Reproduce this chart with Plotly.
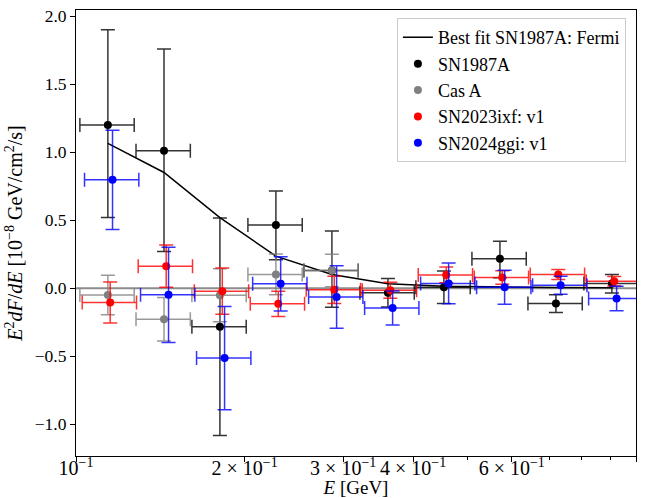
import plotly.graph_objects as go
import numpy as np

# ---------------- data ----------------
# Energy bin centres [GeV]
E_sn1987a = [0.1140, 0.1436, 0.1807, 0.2275, 0.2864, 0.3606, 0.4539, 0.5715, 0.7195, 0.9057]
E_casa = [0.1140, 0.1436, 0.1807, 0.2275, 0.2864]
E_sn2023ixf = [0.1151, 0.1449, 0.1825, 0.2297, 0.2892, 0.3641, 0.4583, 0.5770, 0.7264, 0.9144]
E_sn2024ggi = [0.1162, 0.1463, 0.1842, 0.2320, 0.2920, 0.3676, 0.4628, 0.5826, 0.7335, 0.9234]

# E^2 dF/dE [1e-8 GeV/cm^2/s]
y_sn1987a = [1.20, 1.01, -0.283, 0.465, 0.13, -0.034, 0.007, 0.216, -0.113, 0.035]
yerr_up_sn1987a = [0.70, 0.75, 0.80, 0.25, 0.29, 0.105, 0.12, 0.13, 0.065, 0.066]
yerr_dn_sn1987a = [0.68, 0.74, 0.80, 0.255, 0.27, 0.104, 0.12, 0.14, 0.065, 0.07]

y_casa = [-0.05, -0.229, -0.052, 0.101, 0.13]
yerr_casa = [0.145, 0.16, 0.195, 0.15, 0.12]

y_sn2023ixf = [-0.105, 0.162, -0.022, -0.115, -0.012, -0.015, 0.098, 0.079, 0.101, 0.052]
yerr_sn2023ixf = [0.15, 0.155, 0.17, 0.093, 0.10, 0.058, 0.058, 0.05, 0.037, 0.035]

y_sn2024ggi = [0.797, -0.049, -0.514, 0.032, -0.064, -0.145, 0.035, 0.007, 0.022, -0.076]
yerr_sn2024ggi = [0.365, 0.35, 0.38, 0.20, 0.23, 0.125, 0.15, 0.125, 0.066, 0.09]

# best-fit curve (SN1987A: Fermi) evaluated at the SN1987A energies
fit_sn1987a = [1.065, 0.851, 0.519, 0.236, 0.101, 0.033, 0.014, 0.008, 0.005, 0.004]

# half bin width in decades (horizontal error bars)
BIN_LO_DEX = 0.050
BIN_HI_DEX = 0.047

x_tickvals = [0.1, 0.2, 0.3, 0.4, 0.6, 1.0]
x_ticktext = ["10<sup>−1</sup>", "2 × 10<sup>−1</sup>", "3 × 10<sup>−1</sup>",
              "4 × 10<sup>−1</sup>", "6 × 10<sup>−1</sup>", "10<sup>0</sup>"]
x_minor = [0.5, 0.7, 0.8, 0.9]
y_tickvals = [-1.0, -0.5, 0.0, 0.5, 1.0, 1.5, 2.0]

FONT = "'Liberation Serif', 'DejaVu Serif', serif"


def xerr(E):
    E = np.asarray(E)
    return (E * (10 ** BIN_HI_DEX - 1)).tolist(), (E * (1 - 10 ** -BIN_LO_DEX)).tolist()


def pts(name, E, y, up, dn, color, ecolor):
    hi, lo = xerr(E)
    return go.Scatter(
        x=E, y=y, mode="markers", name=name,
        marker=dict(color=color, size=8),
        error_y=dict(type="data", array=up, arrayminus=dn, color=ecolor,
                     thickness=1.5, width=7),
        error_x=dict(type="data", array=hi, arrayminus=lo, color=ecolor,
                     thickness=1.5, width=7),
    )


fig = go.Figure()
fig.add_trace(go.Scatter(x=E_sn1987a, y=fit_sn1987a, mode="lines",
                         name="Best fit SN1987A: Fermi",
                         line=dict(color="black", width=1.5)))
fig.add_trace(pts("SN1987A", E_sn1987a, y_sn1987a, yerr_up_sn1987a, yerr_dn_sn1987a,
                  "black", "rgba(0,0,0,0.8)"))
fig.add_trace(pts("Cas A", E_casa, y_casa, yerr_casa, yerr_casa,
                  "#808080", "rgba(128,128,128,0.8)"))
fig.add_trace(pts("SN2023ixf: v1", E_sn2023ixf, y_sn2023ixf, yerr_sn2023ixf, yerr_sn2023ixf,
                  "#ff0000", "rgba(255,0,0,0.8)"))
fig.add_trace(pts("SN2024ggi: v1", E_sn2024ggi, y_sn2024ggi, yerr_sn2024ggi, yerr_sn2024ggi,
                  "#0000ff", "rgba(0,0,255,0.8)"))

fig.add_hline(y=0, line=dict(color="rgba(128,128,128,0.9)", width=2), layer="below")

fig.update_layout(
    width=648, height=498,
    margin=dict(l=76, r=12, t=10, b=42, autoexpand=False),
    paper_bgcolor="white", plot_bgcolor="white",
    font=dict(family=FONT, size=17, color="black"),
    showlegend=True,
    legend=dict(x=0.982, y=0.982, xanchor="right", yanchor="top",
                bgcolor="rgba(255,255,255,0.8)", bordercolor="#cccccc", borderwidth=1,
                font=dict(family=FONT, size=18), traceorder="normal"),
    xaxis=dict(type="log", range=[-1, 0], tickmode="array",
               tickvals=x_tickvals, ticktext=x_ticktext, tickangle=0,
               ticklabelstandoff=-11,
               ticks="outside", ticklen=5, tickwidth=1, tickcolor="black",
               showline=True, linecolor="black", linewidth=1, mirror=True,
               showgrid=False, zeroline=False, automargin=False,
               tickfont=dict(family=FONT, size=20),
               minor=dict(tickvals=x_minor, ticks="outside", ticklen=3, tickcolor="black",
                          showgrid=False),
               title=dict(text="<i>E</i> [GeV]", standoff=0, font=dict(family=FONT, size=19))),
    yaxis=dict(range=[-1.234, 2.046], tickvals=y_tickvals, tickformat=".1f",
               ticks="outside", ticklen=5, tickwidth=1, tickcolor="black",
               showline=True, linecolor="black", linewidth=1, mirror=True,
               showgrid=False, zeroline=False, automargin=False,
               tickfont=dict(family=FONT, size=17.5),
               title=dict(text="<i>E</i><sup>2</sup><i>dF</i>/<i>dE</i> [10<sup>−8</sup> GeV/cm<sup>2</sup>/s]",
                          standoff=6, font=dict(family=FONT, size=20))),
)

fig.write_html("out.html")
